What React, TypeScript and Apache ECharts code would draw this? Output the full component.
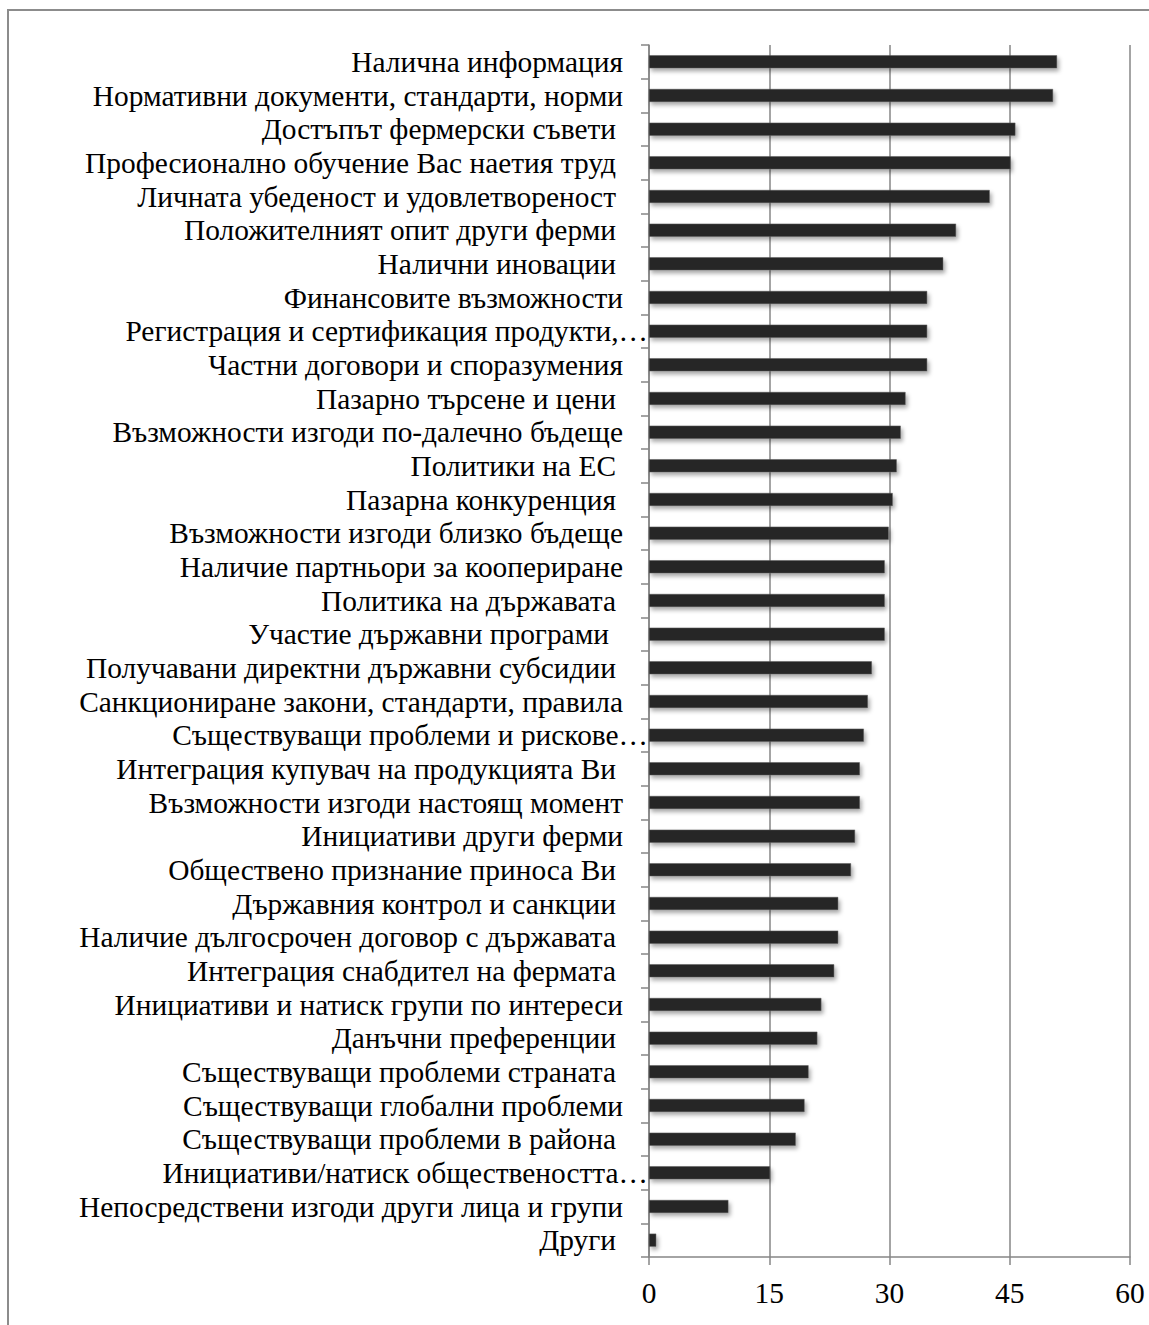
import React, { useEffect, useRef } from "react";
import * as echarts from "echarts";

const categories: string[] = [
  "Налична информация",
  "Нормативни документи, стандарти, норми",
  "Достъпът фермерски съвети ",
  "Професионално обучение Вас наетия труд ",
  "Личната убеденост и удовлетвореност ",
  "Положителният опит други ферми ",
  "Налични иновации ",
  "Финансовите възможности",
  "Регистрация и сертификация продукти,…",
  "Частни договори и споразумения",
  "Пазарно търсене и цени ",
  "Възможности изгоди по-далечно бъдеще",
  "Политики на ЕС ",
  "Пазарна конкуренция ",
  "Възможности изгоди близко бъдеще",
  "Наличие партньори за коопериране",
  "Политика на държавата ",
  "Участие държавни програми  ",
  "Получавани директни държавни субсидии ",
  "Санкциониране закони, стандарти, правила",
  "Съществуващи проблеми и рискове…",
  "Интеграция купувач на продукцията Ви ",
  "Възможности изгоди настоящ момент",
  "Инициативи други ферми",
  "Обществено признание приноса Ви ",
  "Държавния контрол и санкции ",
  "Наличие дългосрочен договор с държавата ",
  "Интеграция снабдител на фермата ",
  "Инициативи и натиск групи по интереси",
  "Данъчни преференции ",
  "Съществуващи проблеми страната ",
  "Съществуващи глобални проблеми",
  "Съществуващи проблеми в района ",
  "Инициативи/натиск обществеността…",
  "Непосредствени изгоди други лица и групи",
  "Други ",
];

const values: number[] = [
  50.9, 50.4, 45.7, 45.1, 42.5, 38.3, 36.7, 34.7, 34.7, 34.7, 32.0, 31.4,
  30.9, 30.4, 29.9, 29.4, 29.4, 29.4, 27.8, 27.3, 26.8, 26.3, 26.3, 25.7,
  25.2, 23.6, 23.6, 23.1, 21.5, 21.0, 19.9, 19.4, 18.3, 15.1, 9.9, 0.9,
];

const xTicks = { min: 0, max: 60, interval: 15 };

const FONT = "'Liberation Serif', 'Times New Roman', serif";
const FS = 29.4;
const AXIS_COLOR = "#868686";

export default function App() {
  const ref = useRef<HTMLDivElement>(null);

  useEffect(() => {
    if (!ref.current) return;
    const chart = echarts.init(ref.current, undefined, { renderer: "svg" });
    const txt = { fontFamily: FONT, fontSize: FS, color: "#000" };
    chart.setOption({
      animation: false,
      backgroundColor: "#ffffff",
      graphic: [
        {
          type: "rect",
          silent: true,
          z: -10,
          shape: { x: 8, y: 10, width: 1170, height: 1340 },
          style: { fill: "none", stroke: "#8c8c8c", lineWidth: 2 },
        },
      ],
      grid: { left: 649, top: 45, width: 481, height: 1212 },
      xAxis: {
        type: "value",
        min: xTicks.min,
        max: xTicks.max,
        interval: xTicks.interval,
        axisLine: { show: true, lineStyle: { color: AXIS_COLOR, width: 1.5 } },
        axisTick: { show: true, length: 8, lineStyle: { color: AXIS_COLOR, width: 1.5 } },
        splitLine: { show: true, lineStyle: { color: AXIS_COLOR, width: 1.5 } },
        axisLabel: { ...txt, margin: 21 },
      },
      yAxis: {
        type: "category",
        inverse: true,
        data: categories,
        axisLine: { show: true, lineStyle: { color: AXIS_COLOR, width: 1.5 } },
        axisTick: { show: true, length: 8, lineStyle: { color: AXIS_COLOR, width: 1.5 } },
        splitLine: { show: false },
        axisLabel: {
          interval: 0,
          margin: 1,
          ...txt,
          formatter: (name: string) => {
            if (name.endsWith("…")) return "{e|" + name + "}";
            const trimmed = name.replace(/\s+$/, "");
            const trail = name.length - trimmed.length;
            if (trail > 0) return "{s" + Math.min(trail, 2) + "|" + trimmed + "}";
            return "{n|" + trimmed + "}";
          },
          rich: {
            e: { ...txt, padding: [0, 0, 0, 0] },
            n: { ...txt, padding: [0, 25, 0, 0] },
            s1: { ...txt, padding: [0, 32, 0, 0] },
            s2: { ...txt, padding: [0, 39, 0, 0] },
          },
        },
      },
      series: [
        {
          type: "bar",
          data: values,
          barWidth: 13,
          itemStyle: {
            color: "#262626",
            borderColor: "#5a5a5a",
            borderWidth: 0.5,
            shadowColor: "rgba(0,0,0,0.35)",
            shadowBlur: 4,
            shadowOffsetX: 2,
            shadowOffsetY: 3,
          },
        },
      ],
    });
    return () => chart.dispose();
  }, []);

  return (
    <div
      ref={ref}
      style={{ position: "absolute", left: 0, top: 0, width: 1149, height: 1325 }}
    />
  );
}
